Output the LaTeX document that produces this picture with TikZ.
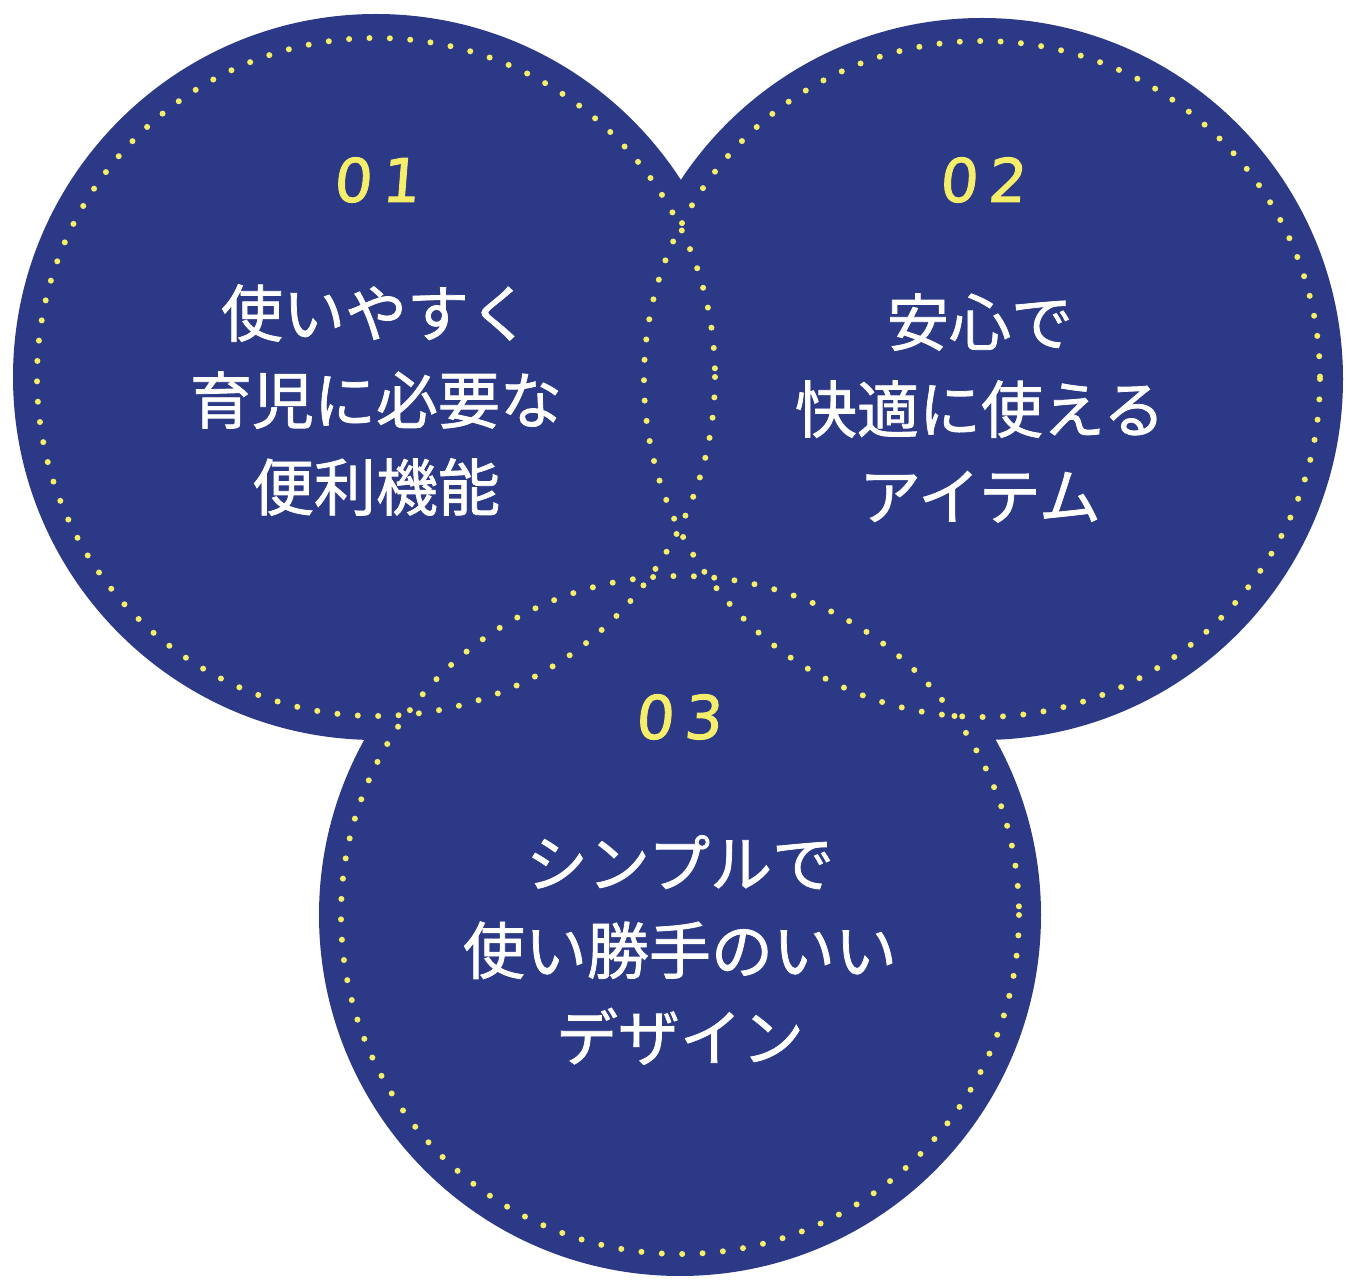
\documentclass[tikz,border=0pt]{standalone}
\usepackage{fontspec}
\newfontfamily\jp{Noto Sans CJK JP}[FakeBold=1.2]
\newfontfamily\numf{DejaVu Sans}[FakeBold=1.5]
\definecolor{navy}{HTML}{2C3987}
\definecolor{dotyel}{HTML}{F4EE6A}
\begin{document}
\begin{tikzpicture}[x=0.5pt,y=-0.5pt,
  disc/.style={fill=navy},
  dotring/.style={draw=dotyel,line width=3pt,line cap=round,dash pattern=on 0pt off 10.2pt},
  lbl/.style={text=white,font=\jp\fontsize{31}{43.5}\selectfont,align=center},
  num/.style={text=dotyel,font=\numf\fontsize{30}{30}\selectfont,xslant=0.08}]
\useasboundingbox (0,0) rectangle (1356,1288);
\fill[disc] (376,377) circle (363);
\fill[disc] (982,379) circle (361);
\fill[disc] (680,915) circle (361);
\draw[dotring] (376,377) circle (339);
\draw[dotring] (982,379) circle (338);
\draw[dotring] (680,915) circle (339);
\node[num] (n1) at (378,180) {0\,1};
\node[num] (n2) at (984,180) {0\,2};
\node[num] (n3) at (680,717) {0\,3};
\node[lbl] (t1) at (376,400) {使いやすく\\育児に必要な\\便利機能};
\node[lbl] (t2) at (980,408) {安心で\\快適に使える\\アイテム};
\node[lbl] (t3) at (680,950) {シンプルで\\使い勝手のいい\\デザイン};
\end{tikzpicture}
\end{document}
